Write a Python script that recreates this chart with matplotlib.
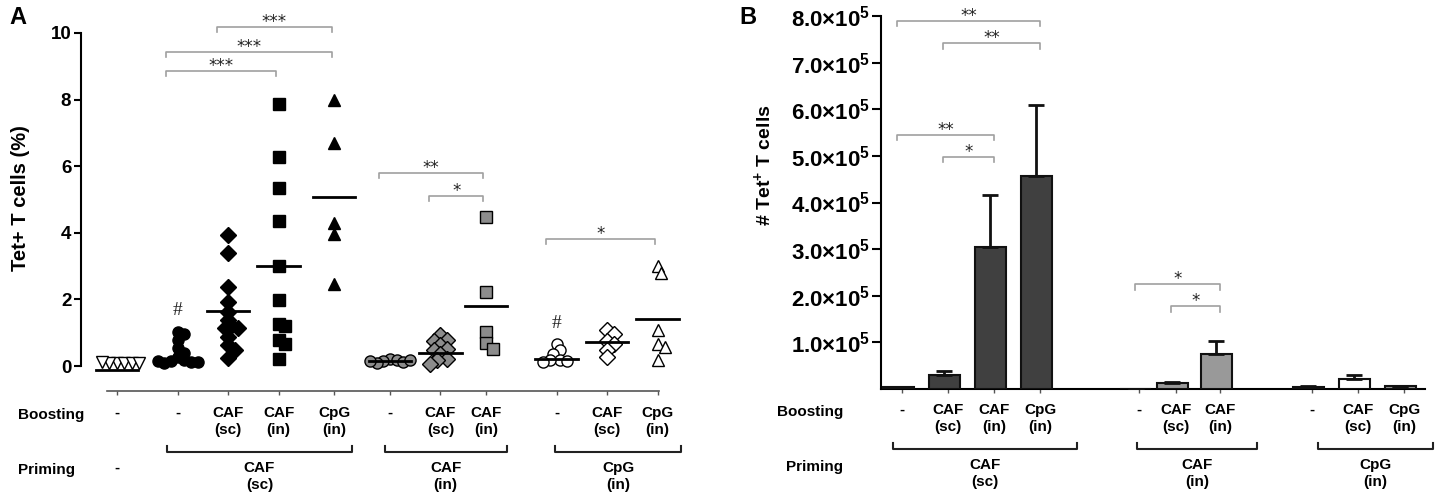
import numpy as np
import matplotlib
matplotlib.use("Agg")
import matplotlib.pyplot as plt
import matplotlib.transforms as mtransforms

plt.rcParams['font.family'] = ['Liberation Sans', 'DejaVu Sans']
plt.rcParams['font.weight'] = 'bold'
plt.rcParams['mathtext.fontset'] = 'custom'
plt.rcParams['mathtext.rm'] = 'Liberation Sans:bold'
plt.rcParams['mathtext.bf'] = 'Liberation Sans:bold'
plt.rcParams['mathtext.it'] = 'Liberation Sans:bold'

# ---------------- data: panel A, % Tet+ T cells per mouse ----------------
boost_labels = ['-', '-', 'CAF\n(sc)', 'CAF\n(in)', 'CpG\n(in)',
                '-', 'CAF\n(sc)', 'CAF\n(in)',
                '-', 'CAF\n(sc)', 'CpG\n(in)']
prime_labels = ['CAF\n(sc)', 'CAF\n(in)', 'CpG\n(in)']

naive = [0.1, 0.1, 0.08, 0.1, 0.12, 0.09]
cafsc_none = [1.02, 0.95, 0.78, 0.55, 0.4, 0.28, 0.18, 0.14, 0.12, 0.1, 0.13, 0.16]
cafsc_cafsc = [3.93, 3.40, 2.36, 1.93, 1.62, 1.37, 1.19, 1.15, 1.14, 0.87, 0.62, 0.49, 0.25]
cafsc_cafin = [7.87, 6.29, 5.34, 4.36, 3.01, 1.98, 1.27, 1.19, 0.77, 0.65, 0.22]
cafsc_cpgin = [8.0, 6.7, 4.28, 3.95, 2.45]
cafin_none = [0.22, 0.18, 0.15, 0.12, 0.1, 0.17, 0.14]
cafin_cafsc = [0.92, 0.77, 0.75, 0.62, 0.52, 0.47, 0.35, 0.22, 0.17, 0.07]
cafin_cafin = [4.46, 2.21, 1.02, 0.69, 0.52]
cpgin_none = [0.65, 0.47, 0.35, 0.19, 0.17, 0.15, 0.13]
cpgin_cafsc = [1.09, 0.97, 0.75, 0.67, 0.49, 0.27]
cpgin_cpgin = [3.0, 2.78, 1.07, 0.67, 0.57, 0.19]
medians_A = [-0.12, 0.18, 1.65, 3.01, 5.09, 0.15, 0.40, 1.80, 0.20, 0.73, 1.42]
hash_groups = [1, 8]
hash_y = [1.68, 1.27]

# significance brackets: (group i, group j, height, stars)
sig_A = [(2, 4, 10.18, '***'), (1, 4, 9.43, '***'), (1, 3, 8.86, '***'),
         (5, 7, 5.80, '**'), (6, 7, 5.10, '*'), (8, 10, 3.81, '*')]

# ---------------- data: panel B, number of Tet+ T cells (mean + SEM) ------
means_B = [3.5e3, 3.0e4, 3.05e5, 4.56e5, 1.0e3, 1.3e4, 7.4e4, 4.0e3, 2.1e4, 5.5e3]
sem_B = [1.0e3, 0.9e4, 1.11e5, 1.54e5, 0.0, 3.0e3, 3.0e4, 1.5e3, 8.0e3, 2.0e3]
sig_B = [(0, 3, 7.90e5, '**'), (1, 3, 7.42e5, '**'), (0, 2, 5.45e5, '**'),
         (1, 2, 4.98e5, '*'), (4, 6, 2.25e5, '*'), (5, 6, 1.78e5, '*')]
yticks_B = [1e5, 2e5, 3e5, 4e5, 5e5, 6e5, 7e5, 8e5]

W, H = 1439, 499
fig = plt.figure(figsize=(W / 100, H / 100), dpi=100)


def fy(y):
    return 1 - y / H


def swarm(vals, ppu_x, ppu_y, d):
    # nearest free slot to the centre line, in pixel space
    placed, offs = [], []
    for v in vals:
        y = v * ppu_y
        x = 0.0
        for k in range(60):
            cands = [0.0] if k == 0 else [k * d * 0.5, -k * d * 0.5]
            ok = None
            for c in cands:
                if all((c - px) ** 2 + (y - py) ** 2 >= d * d for px, py in placed):
                    ok = c
                    break
            if ok is not None:
                x = ok
                break
        placed.append((x, y))
        offs.append(x / ppu_x)
    return offs


def bracket(ax, x1, x2, y, drop, label):
    ax.plot([x1, x1, x2, x2], [y - drop, y, y, y - drop], color='#a0a0a0',
            lw=1.2, clip_on=False)
    ax.text((x1 + x2) / 2, y, label, ha='center', va='baseline', fontsize=12,
            family='DejaVu Sans', weight='normal', color='#222222')


def bottom_labels(ax, pos, labels, spans, groups, xlab, xlab_ha, dy):
    tr = mtransforms.blended_transform_factory(ax.transData, fig.transFigure)
    for p, lab in zip(pos, labels):
        ax.text(p, fy(406 + dy), lab, transform=tr, ha='center', va='top',
                fontsize=11, linespacing=1.3, clip_on=False)
    for (a, b), lab in zip(spans, groups):
        ax.plot([a, a, b, b], [fy(446 + dy), fy(452 + dy), fy(452 + dy), fy(446 + dy)],
                transform=tr, color='#222222', lw=1.5, clip_on=False)
        ax.text((a + b) / 2, fy(461 + dy), lab, transform=tr, ha='center', va='top',
                fontsize=11, linespacing=1.3, clip_on=False)
    trf = fig.transFigure
    fig.text(xlab / W, fy(408 + dy), 'Boosting', ha=xlab_ha, va='top', fontsize=11, transform=trf)
    fig.text(xlab / W, fy(463 + dy), 'Priming', ha=xlab_ha, va='top', fontsize=11, transform=trf)


# ================= panel A =================
posA = [0, 1.2, 2.2, 3.2, 4.3, 5.4, 6.4, 7.3, 8.7, 9.7, 10.7]
axA = fig.add_axes([81 / W, fy(391), (683 - 81) / W, (391 - 23) / H])
axA.set_xlim(-0.71, 11.2)
axA.set_ylim(-0.75, 10.3)
ppu_x = 602 / 11.91
ppu_y = 368 / 11.05

grey = '#8c8c8c'
groups_A = [
    (naive, 'v', 'white', 9),
    (cafsc_none, 'o', 'black', 8),
    (cafsc_cafsc, 'D', 'black', 8),
    (cafsc_cafin, 's', 'black', 8),
    (cafsc_cpgin, '^', 'black', 9),
    (cafin_none, 'o', grey, 8),
    (cafin_cafsc, 'D', grey, 8),
    (cafin_cafin, 's', grey, 8),
    (cpgin_none, 'o', 'white', 8),
    (cpgin_cafsc, 'D', 'white', 8),
    (cpgin_cpgin, '^', 'white', 9),
]
for i, (vals, mk, fc, ms) in enumerate(groups_A):
    offs = swarm(vals, ppu_x, ppu_y, ms / 0.72 * 0.6)
    xs = [posA[i] + o for o in offs]
    axA.plot(xs, vals, ls='none', marker=mk, ms=ms, mfc=fc, mec='black',
             mew=1.0, clip_on=False, zorder=3)
    axA.plot([posA[i] - 0.42, posA[i] + 0.42], [medians_A[i]] * 2, color='black',
             lw=2, zorder=4, clip_on=False)

for g, yv in zip(hash_groups, hash_y):
    axA.text(posA[g], yv, '#', ha='center', va='center', fontsize=14,
             family='Liberation Serif', weight='normal', color='#222222')

for i, j, yv, s in sig_A:
    bracket(axA, posA[i] - 0.22, posA[j] - 0.05, yv, 0.15, s)

for side in ['top', 'right']:
    axA.spines[side].set_visible(False)
axA.spines['left'].set_bounds(0, 10)
axA.spines['left'].set_linewidth(1.5)
axA.spines['bottom'].set_bounds(-0.2, 10.72)
axA.spines['bottom'].set_color('#555555')
axA.spines['bottom'].set_linewidth(1.2)
axA.set_yticks([0, 2, 4, 6, 8, 10])
axA.tick_params(axis='y', labelsize=13.5, width=1.5, length=5, pad=2)
axA.set_xticks(posA)
axA.set_xticklabels([])
axA.tick_params(axis='x', length=3, width=1, color='#555555')

spansA = [(0.99, 4.65), (5.3, 7.71), (8.66, 11.17)]
bottom_labels(axA, posA, boost_labels, spansA, prime_labels, 18, 'left', 0)
trA = mtransforms.blended_transform_factory(axA.transData, fig.transFigure)
axA.text(posA[0], fy(461), '-', transform=trA, ha='center', va='top', fontsize=11, clip_on=False)

fig.text(21 / W, fy(198), 'Tet+ T cells (%)', rotation=90, ha='center', va='center', fontsize=14.5)
fig.text(18 / W, fy(18), 'A', ha='center', va='center', fontsize=17)

# ================= panel B =================
posB = [0, 1, 2, 3, 5.15, 5.95, 6.9, 8.9, 9.9, 10.9]
colors_B = ['#404040'] * 4 + ['#999999'] * 3 + ['#777777', 'white', '#999999']
axB = fig.add_axes([881 / W, fy(389), (1425 - 881) / W, (389 - 16) / H])
axB.set_xlim(-0.456, 11.355)
axB.set_ylim(0, 8e5)
axB.bar(np.array(posB) - 0.08, means_B, width=0.67, color=colors_B,
        edgecolor='#111111', linewidth=1.5,
        yerr=(np.zeros(len(sem_B)), sem_B), capsize=5.5,
        error_kw=dict(elinewidth=2, capthick=2, ecolor='#111111'), zorder=3)

for i, j, yv, s in sig_B:
    bracket(axB, posB[i] - 0.1, posB[j], yv, 0.12e5, s)

for side in ['top', 'right']:
    axB.spines[side].set_visible(False)
axB.spines['left'].set_linewidth(1.5)
axB.spines['bottom'].set_linewidth(1.5)
axB.set_yticks(yticks_B)
axB.set_yticklabels(['%.1f×10$^{5}$' % (v / 1e5) for v in yticks_B])
axB.tick_params(axis='y', labelsize=16, width=1.5, length=6.5, pad=1)
axB.set_xticks(posB)
axB.set_xticklabels([])
axB.tick_params(axis='x', length=3, width=1, color='#555555')

spansB = [(-0.2, 3.8), (5.1, 7.71), (9.03, 11.53)]
bottom_labels(axB, posB, boost_labels[1:], spansB, prime_labels, 843, 'right', -3)

fig.text(763 / W, fy(165), '# Tet$^{+}$ T cells', rotation=90, ha='center', va='center', fontsize=14)
fig.text(748 / W, fy(18), 'B', ha='center', va='center', fontsize=17)

fig.savefig('out.png', dpi=100)
